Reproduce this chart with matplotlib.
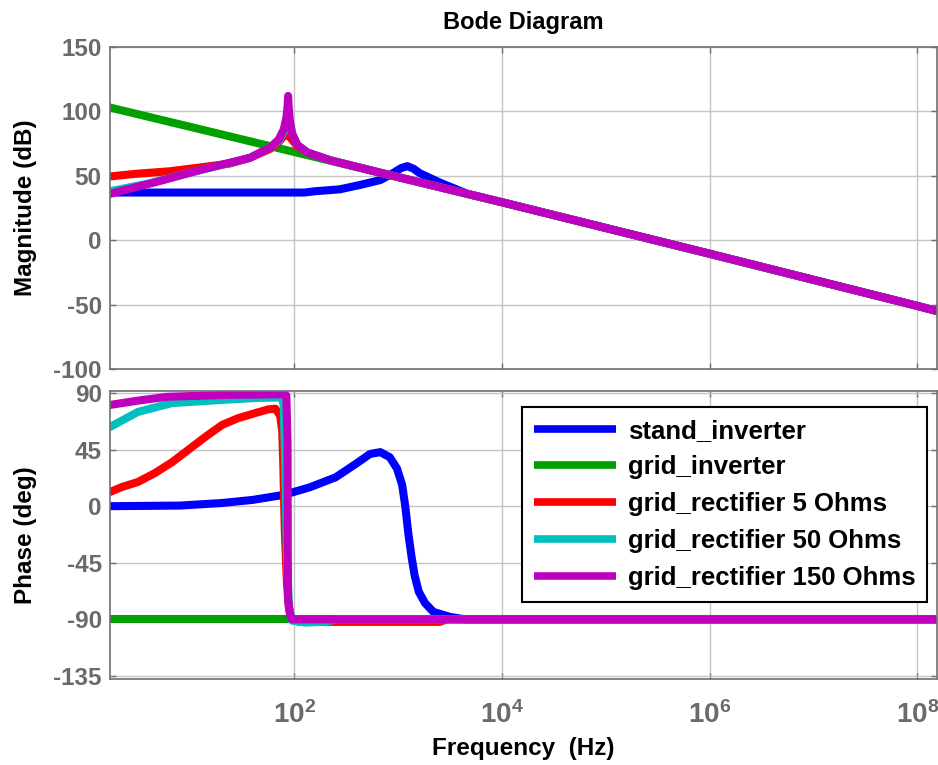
import matplotlib
matplotlib.use("Agg")
import matplotlib.pyplot as plt
import numpy as np

plt.rcParams['font.family'] = ['Liberation Sans', 'DejaVu Sans']
plt.rcParams['mathtext.fontset'] = 'custom'
plt.rcParams['mathtext.rm'] = 'Liberation Sans:bold'
plt.rcParams['mathtext.bf'] = 'Liberation Sans:bold'

# ---- data (log10 of frequency in Hz) ----
labels = ['stand_inverter', 'grid_inverter', 'grid_rectifier 5 Ohms',
          'grid_rectifier 50 Ohms', 'grid_rectifier 150 Ohms']
colors = ['#0000FF', '#00A000', '#FF0000', '#00BFBF', '#BF00BF']

tail_logf = [4.0, 6.0, 8.0, 8.19]
tail_db = [29.5, -10.5, -51.0, -55.0]

blue_mag_logf = [0.227, 2.1, 2.2, 2.44, 2.64, 2.83, 2.95, 3.03, 3.09, 3.15, 3.21, 3.41, 3.67] + tail_logf
blue_mag_db = [37, 37, 38, 39.5, 43, 46.7, 52, 56, 57.5, 55.5, 52, 44.5, 36] + tail_db

green_mag_logf = [0.227, 1.0, 2.0, 3.0] + tail_logf
green_mag_db = [103, 88, 68.5, 49] + tail_db

red_mag_logf = [0.227, 0.47, 0.8, 1.094, 1.38, 1.576, 1.77, 1.85, 1.90, 1.93, 1.96,
                2.03, 2.13, 2.35, 2.6, 3.0] + tail_logf
red_mag_db = [49.5, 51.5, 53.5, 56.5, 59.5, 64, 71, 76, 81, 82, 80,
              73, 68, 62, 57, 49] + tail_db

cyan_mag_logf = [0.227, 0.6, 1.0, 1.38, 1.576, 1.77, 1.85, 1.90, 1.925, 1.942, 1.958,
                 1.98, 2.03, 2.13, 2.35, 2.6, 3.0] + tail_logf
cyan_mag_db = [38, 44, 52.5, 60, 64, 72, 77, 84, 92, 100, 92,
               83, 74, 68, 62, 57, 49] + tail_db

mag_logf = [0.227, 0.709, 1.094, 1.576, 1.77, 1.85, 1.90, 1.925, 1.937, 1.942, 1.947,
            1.96, 1.98, 2.03, 2.13, 2.35, 2.6, 3.0] + tail_logf
mag_db = [36, 46, 54.5, 64, 72, 78, 86, 95, 104, 112, 104,
          92, 83, 74, 68, 62, 57, 49] + tail_db

blue_ph_logf = [0.227, 0.9, 1.3, 1.6, 1.9, 2.15, 2.4, 2.6, 2.73, 2.83, 2.92, 2.99,
                3.04, 3.07, 3.1, 3.13, 3.16, 3.2, 3.26, 3.34, 3.5, 3.65, 8.19]
blue_ph_deg = [0, 0.5, 2.5, 5, 9, 15, 23, 34, 41.5, 43, 39, 30,
               17, 0, -22, -40, -55, -68, -77, -84, -88, -90, -90]

green_ph_logf = [0.227, 8.19]
green_ph_deg = [-90, -90]

red_ph_logf = [0.227, 0.343, 0.497, 0.661, 0.825, 0.979, 1.143, 1.306, 1.46, 1.624,
               1.75, 1.82, 1.865, 1.885, 1.895, 1.91, 1.93, 1.95, 1.98, 2.05, 3.4,
               3.47, 8.19]
red_ph_deg = [11.3, 15.3, 19.3, 26.4, 35, 44.7, 55, 64.6, 70, 74,
              77, 77.5, 72, 60, 35, -20, -60, -82, -90, -92, -92,
              -90, -90]

cyan_ph_logf = [0.227, 0.497, 0.825, 1.306, 1.624, 1.88, 1.9, 1.915, 1.93, 1.95,
                1.98, 2.1, 2.3, 2.4, 8.19]
cyan_ph_deg = [63, 75, 82, 84.5, 86, 86.5, 80, 30, -40, -80,
               -91, -92.5, -92, -90, -90]

mag_ph_logf = [0.227, 0.5, 0.777, 1.355, 1.9, 1.925, 1.937, 1.939, 1.942, 1.96,
               1.98, 8.19]
mag_ph_deg = [80.5, 84, 87, 88.5, 89, 88, 50, -40, -74, -86,
              -90, -90]

mag_sets = [(blue_mag_logf, blue_mag_db), (green_mag_logf, green_mag_db),
            (red_mag_logf, red_mag_db), (cyan_mag_logf, cyan_mag_db),
            (mag_logf, mag_db)]
ph_sets = [(blue_ph_logf, blue_ph_deg), (green_ph_logf, green_ph_deg),
           (red_ph_logf, red_ph_deg), (cyan_ph_logf, cyan_ph_deg),
           (mag_ph_logf, mag_ph_deg)]

mag_ticks = [-100, -50, 0, 50, 100, 150]
ph_ticks = [-135, -90, -45, 0, 45, 90]
x_ticks = [1e2, 1e4, 1e6, 1e8]
x_ticklabels = [r'$\mathbf{10^{2}}$', r'$\mathbf{10^{4}}$', r'$\mathbf{10^{6}}$', r'$\mathbf{10^{8}}$']

# ---- figure ----
W, H = 938, 765
fig = plt.figure(figsize=(W / 100, H / 100), dpi=100)
left = 110 / W
width = (937 - 110) / W
ax1 = fig.add_axes([left, 1 - 369 / H, width, 322 / H])
ax2 = fig.add_axes([left, 1 - 679 / H, width, 288 / H])

tick_color = '#6a6a6a'
spine_color = '#707070'
grid_color = '#c4c4c4'
lw = 5.8

for (lf, v), c, lab in zip(mag_sets, colors, labels):
    ax1.plot(10 ** np.array(lf), v, color=c, lw=lw, solid_capstyle='round',
             solid_joinstyle='round', label=lab)
for (lf, v), c, lab in zip(ph_sets, colors, labels):
    ax2.plot(10 ** np.array(lf), v, color=c, lw=lw, solid_capstyle='round',
             solid_joinstyle='round', label=lab)

xlim = (10 ** 0.227, 10 ** 8.19)
for ax in (ax1, ax2):
    ax.set_xscale('log')
    ax.set_xlim(*xlim)
    ax.set_xticks(x_ticks)
    ax.xaxis.set_minor_locator(matplotlib.ticker.NullLocator())
    ax.grid(True, color=grid_color, lw=1.0, ls='-')
    ax.set_axisbelow(True)
    ax.tick_params(direction='in', length=4, width=1, colors=spine_color,
                   top=True, right=True, labelsize=17.5, labelcolor=tick_color, pad=6)
    for sp in ax.spines.values():
        sp.set_color(spine_color)
        sp.set_linewidth(1.2)

ax1.set_ylim(-100, 150)
ax1.set_yticks(mag_ticks)
ax1.set_yticklabels([str(t) for t in mag_ticks], fontweight='bold')
ax1.set_xticklabels([])

ax2.set_ylim(-137.4, 91.6)
ax2.set_yticks(ph_ticks)
ax2.set_yticklabels([str(t) for t in ph_ticks], fontweight='bold')
ax2.set_xticklabels(x_ticklabels)
ax2.tick_params(axis='x', labelsize=20, pad=16)

ax1.set_ylabel('Magnitude (dB)', fontsize=17.5, fontweight='bold', labelpad=12)
ax2.set_ylabel('Phase (deg)', fontsize=17.5, fontweight='bold', labelpad=12)
ax2.set_xlabel('Frequency  (Hz)', fontsize=17.5, fontweight='bold', labelpad=6)
ax1.set_title('Bode Diagram', fontsize=17, fontweight='bold', pad=13)

leg = ax2.legend(loc='upper right', bbox_to_anchor=(927 / W, 1 - 407 / H),
                 bbox_transform=fig.transFigure, borderaxespad=0,
                 prop={'weight': 'bold', 'size': 18.5}, handlelength=3.2,
                 handletextpad=0.45, labelspacing=0.5, borderpad=0.45,
                 fancybox=False, framealpha=1, edgecolor='black')
leg.get_frame().set_linewidth(1.5)
for l in leg.get_lines():
    l.set_linewidth(5.5)
    l.set_solid_capstyle('butt')

fig.savefig('out.png', dpi=100)
